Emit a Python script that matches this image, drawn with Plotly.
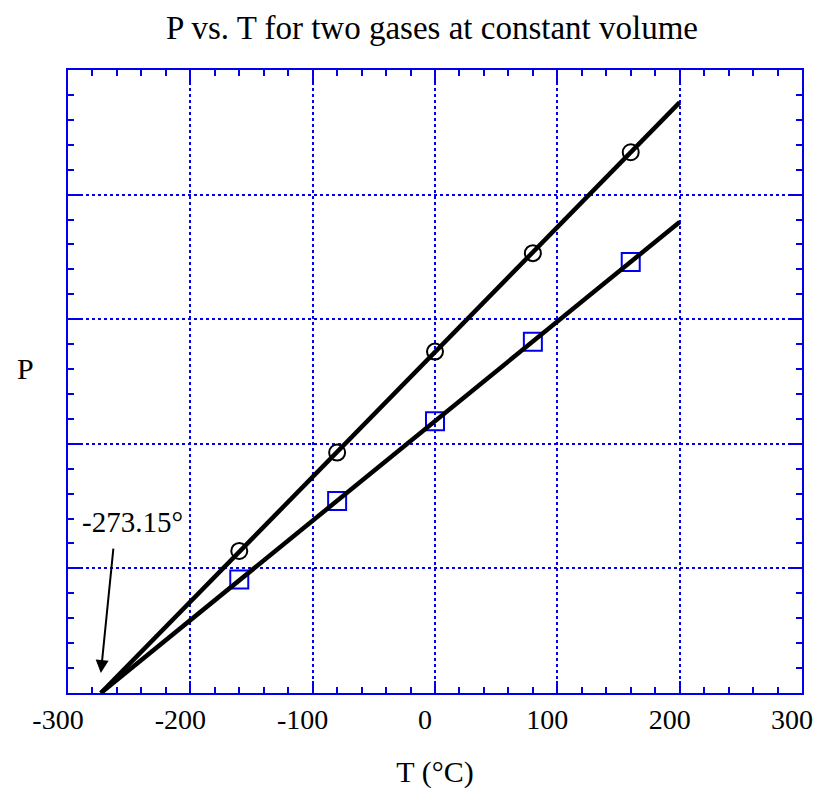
import plotly.graph_objects as go

# Data
T_points = [-160, -80, 0, 80, 160]
P_gas1 = [1.14, 1.93, 2.74, 3.53, 4.34]   # circles
P_gas2 = [0.91, 1.54, 2.18, 2.82, 3.46]   # squares
T_line = [-273.15, 200]
P_line1 = [0.0, 4.74]
P_line2 = [0.0, 3.78]
x_ticks = [-300, -200, -100, 0, 100, 200, 300]

FONT = "Liberation Serif"
BLUE = "#0000ee"

W, H = 806, 786  # page body has an 8px margin on every side
L, R, T, B = 60, 12, 62, 101
PW, PH = W - L - R, H - T - B

fig = go.Figure()

fig.add_trace(go.Scatter(
    x=T_points, y=P_gas1, mode="markers",
    marker=dict(symbol="circle-open", size=16, color="black", line=dict(width=2)),
    showlegend=False, cliponaxis=False))
fig.add_trace(go.Scatter(
    x=T_points, y=P_gas2, mode="markers",
    marker=dict(symbol="square-open", size=18, color=BLUE, line=dict(width=2)),
    showlegend=False, cliponaxis=False))
fig.add_trace(go.Scatter(
    x=T_line, y=P_line1, mode="lines",
    line=dict(color="black", width=4.5), showlegend=False))
fig.add_trace(go.Scatter(
    x=T_line, y=P_line2, mode="lines",
    line=dict(color="black", width=4.5), showlegend=False))

axis_common = dict(
    showline=True, linecolor=BLUE, linewidth=2, mirror="ticks",
    ticks="inside", ticklen=12, tickwidth=2, tickcolor=BLUE,
    showgrid=True, gridcolor=BLUE, griddash="dot", gridwidth=2,
    zeroline=False, automargin=False,
)

fig.update_xaxes(
    range=[-300, 300], tickvals=x_ticks, ticktext=[str(v) for v in x_ticks],
    minor=dict(dtick=20, ticks="inside", ticklen=6, tickwidth=2, tickcolor=BLUE, showgrid=False),
    tickfont=dict(family=FONT, size=28, color="black"),
    ticklabeloverflow="allow", ticklabelshift=-10,
    title=dict(text="T (°C)", font=dict(family=FONT, size=30, color="black"), standoff=27),
    **axis_common)
fig.update_yaxes(
    range=[0, 5], dtick=1, showticklabels=False,
    minor=dict(dtick=0.2, ticks="inside", ticklen=6, tickwidth=2, tickcolor=BLUE, showgrid=False),
    **axis_common)

fig.add_annotation(
    x=-273.15, y=0.16, ax=-262.8, ay=1.17, xref="x", yref="y", axref="x", ayref="y",
    text="", showarrow=True, arrowhead=2, arrowsize=1.3, arrowwidth=2, arrowcolor="black")
fig.add_annotation(
    x=-247.5, y=1.37, xref="x", yref="y", text="-273.15°", showarrow=False,
    font=dict(family=FONT, size=29, color="black"))
fig.add_annotation(
    x=((25 - 8) - L) / PW, y=1 - ((368 - 8) - T) / PH, xref="paper", yref="paper", text="P",
    showarrow=False, xanchor="center", yanchor="middle",
    font=dict(family=FONT, size=30, color="black"))

fig.update_layout(
    width=W, height=H,
    margin=dict(l=L, r=R, t=T, b=B),
    paper_bgcolor="white", plot_bgcolor="white",
    title=dict(text="P vs. T for two gases at constant volume",
               x=(432 - 8) / W, xanchor="center",
               y=1 - (27 - 8) / H, yanchor="middle",
               font=dict(family=FONT, size=33, color="black")),
)

fig.write_html("out.html")
